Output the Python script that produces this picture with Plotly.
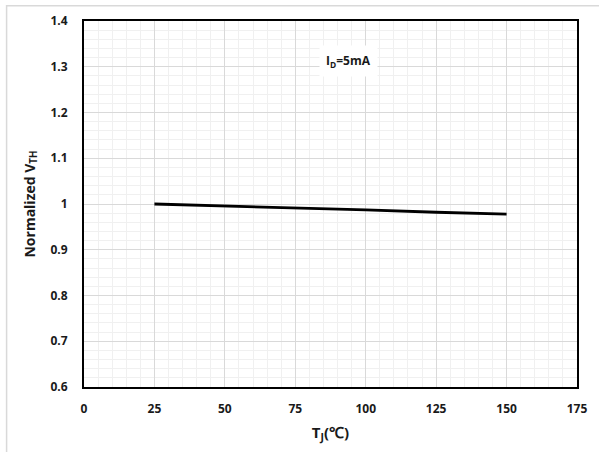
import plotly.graph_objects as go

temps = [25, 50, 75, 100, 125, 150]
vth_norm = [1.0, 0.996, 0.991, 0.987, 0.982, 0.978]
x_ticks = [0, 25, 50, 75, 100, 125, 150, 175]
x_tick_labels = ["0", "25", "50", "75", "100", "125", "150", "175"]
y_ticks = [0.6, 0.7, 0.8, 0.9, 1.0, 1.1, 1.2, 1.3, 1.4]
y_tick_labels = ["0.6", "0.7", "0.8", "0.9", "1", "1.1", "1.2", "1.3", "1.4"]

FONT = "Open Sans"

fig = go.Figure()
fig.add_trace(go.Scatter(x=temps, y=vth_norm, mode="lines",
                         line=dict(color="black", width=2.8), showlegend=False))

fig.update_layout(
    width=599, height=452,
    margin=dict(l=84, r=16, t=17, b=65),
    paper_bgcolor="white", plot_bgcolor="white",
    font=dict(family=FONT, color="#1a1a1a", size=12),
    xaxis=dict(range=[0, 175], tickvals=x_ticks,
               ticktext=["<b>%s</b>" % t for t in x_tick_labels],
               showline=True, mirror=True,
               linecolor="black", linewidth=2, gridcolor="#d9d9d9", gridwidth=1,
               zeroline=False, ticks="", ticklabelstandoff=10,
               minor=dict(dtick=5, showgrid=True, gridcolor="#f0f0f0", gridwidth=1),
               tickfont=dict(family=FONT, size=12, color="#1a1a1a"),
               title=dict(text="<b>T<sub>J</sub>(℃)</b>", font=dict(family=FONT, size=15),
                          standoff=11)),
    yaxis=dict(range=[0.6, 1.4], tickvals=y_ticks,
               ticktext=["<b>%s</b>" % t for t in y_tick_labels],
               showline=True, mirror=True,
               linecolor="black", linewidth=2, gridcolor="#d9d9d9", gridwidth=1,
               zeroline=False, ticks="", ticklabelstandoff=12,
               minor=dict(dtick=0.02, showgrid=True, gridcolor="#f0f0f0", gridwidth=1),
               tickfont=dict(family=FONT, size=12, color="#1a1a1a"),
               title=dict(text="<b>Normalized V<sub>TH</sub></b>", font=dict(family=FONT, size=14),
                          standoff=12)),
)

fig.add_annotation(x=94, y=1.312, xref="x", yref="y", text="<b>I<sub>D</sub>=5mA</b>",
                   showarrow=False, bgcolor="white", borderpad=6,
                   font=dict(family=FONT, size=12, color="#1a1a1a"))

# outer chart border (partially cropped in reference)
fig.add_shape(type="rect", xref="paper", yref="paper",
              x0=-0.157, x1=1.2, y0=-0.3, y1=1.042,
              line=dict(color="#d9d9d9", width=1.5), layer="below")

fig.write_html("out.html")
